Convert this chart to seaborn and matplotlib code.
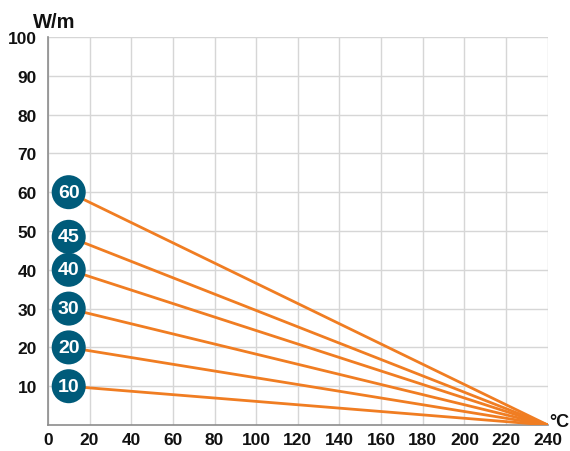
import pandas as pd
import seaborn as sns
import matplotlib.pyplot as plt

# power ratings (labels) and where each line starts at 10 °C
ratings = ['60', '45', '40', '30', '20', '10']
start_values = [60, 48.5, 40, 30, 20, 10]
start_temp = 10
end_temp = 240
end_value = 0

x_ticks = list(range(0, 241, 20))
y_ticks = list(range(10, 101, 10))

ORANGE = '#f07d22'
TEAL = '#005b7a'

rows = []
for r, v in zip(ratings, start_values):
    rows.append({'rating': r, 'temp': start_temp, 'power': v})
    rows.append({'rating': r, 'temp': end_temp, 'power': end_value})
df = pd.DataFrame(rows)

sns.set_style('white')
plt.rcParams['font.family'] = ['Liberation Sans', 'DejaVu Sans']

fig = plt.figure(figsize=(5.7, 4.52), dpi=100)
ax = fig.add_axes([0.084, 0.0575, 0.877, 0.8585])

sns.lineplot(data=df, x='temp', y='power', units='rating', estimator=None,
             color=ORANGE, linewidth=2, ax=ax, zorder=3)

# numbered markers
ax.scatter([start_temp] * len(start_values), start_values, s=600, color=TEAL,
           zorder=4, edgecolors='none', clip_on=False)
for r, v in zip(ratings, start_values):
    ax.text(start_temp, v, r, color='white', fontsize=14, fontweight='bold',
            ha='center', va='center', zorder=5)

ax.set_xlim(0, 240)
ax.set_ylim(0, 100)
ax.set_xticks(x_ticks)
ax.set_yticks(y_ticks)
ax.grid(True, color='#d6d6d6', linewidth=1)
ax.set_axisbelow(True)
for s in ['top', 'right']:
    ax.spines[s].set_visible(False)
for s in ['left', 'bottom']:
    ax.spines[s].set_color('#8c8c8c')
    ax.spines[s].set_linewidth(1.2)
ax.tick_params(axis='both', length=0, labelsize=12.5, labelcolor='#111111')
ax.tick_params(axis='x', pad=5)
ax.tick_params(axis='y', pad=8)
for lab in ax.get_xticklabels() + ax.get_yticklabels():
    lab.set_fontweight('bold')
ax.set_xlabel('')
ax.set_ylabel('')

fig.text(0.096, 0.951, 'W/m', fontsize=14.5, fontweight='bold', ha='center', va='center', color='#111111')
fig.text(0.982, 0.066, '°C', fontsize=13, fontweight='bold', ha='center', va='center', color='#111111')

fig.savefig('out.png', dpi=100)
